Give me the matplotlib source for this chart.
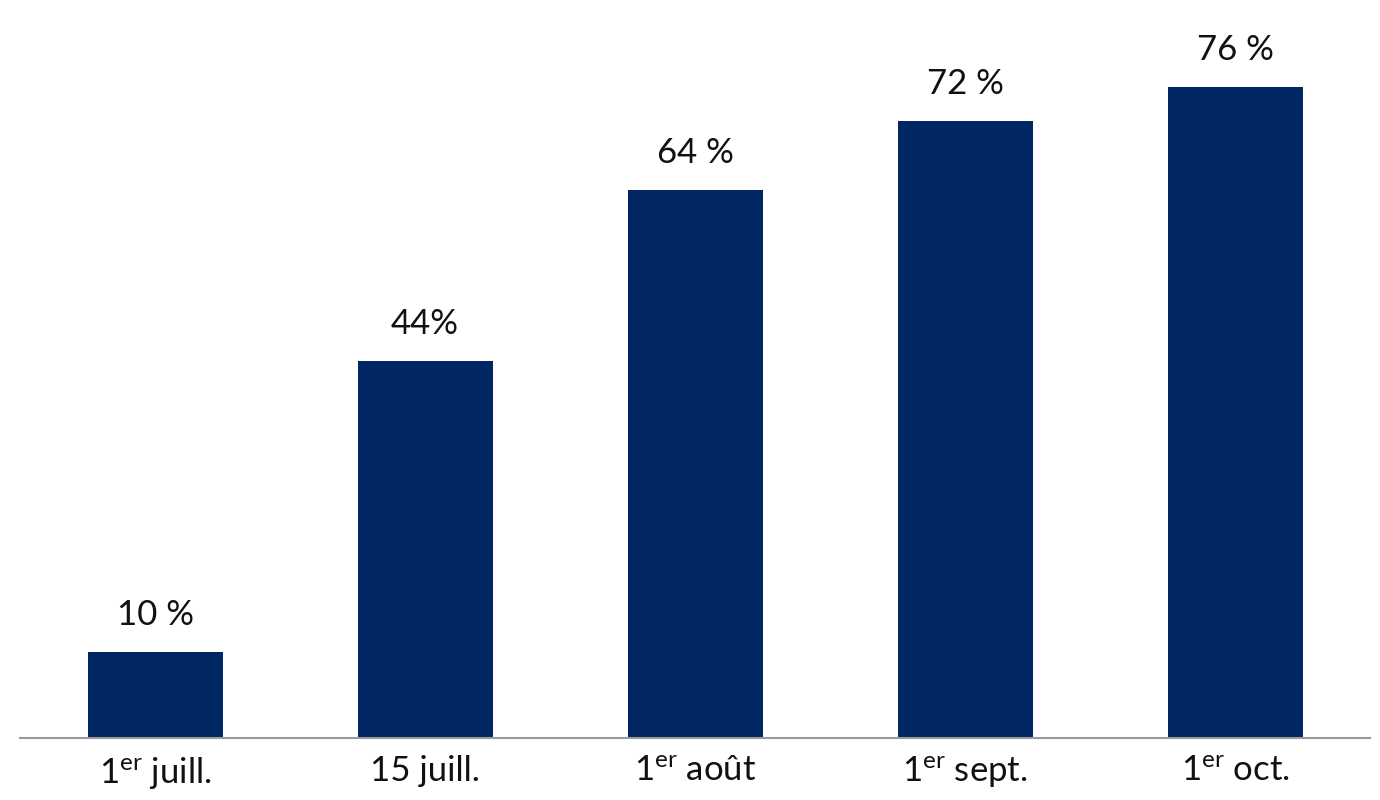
import matplotlib
matplotlib.use('Agg')
import matplotlib.pyplot as plt

# Data
categories = [r'1$^{\mathrm{er}}$ juill.', '15 juill.', r'1$^{\mathrm{er}}$ août',
              r'1$^{\mathrm{er}}$ sept.', r'1$^{\mathrm{er}}$ oct.']
values = [10, 44, 64, 72, 76]
value_labels = ['10 %', '44%', '64 %', '72 %', '76 %']

plt.rcParams['font.family'] = ['Lato', 'DejaVu Sans']
plt.rcParams['mathtext.fontset'] = 'custom'
plt.rcParams['mathtext.rm'] = 'Lato'
plt.rcParams['mathtext.it'] = 'Lato:italic'
plt.rcParams['mathtext.bf'] = 'Lato:bold'

fig = plt.figure(figsize=(13.8, 8), dpi=100)
ax = fig.add_axes([0.0145, 0.0775, 0.9783, 0.857])

x = range(len(values))
bars = ax.bar(x, values, width=0.5, color='#002664')

for b, lab in zip(bars, value_labels):
    ax.annotate(lab, (b.get_x() + b.get_width() / 2, b.get_height()),
                xytext=(0, 15), textcoords='offset points',
                ha='center', va='bottom', fontsize=25, color='#111111')

ax.set_xlim(-0.5, 4.5)
ax.set_ylim(0, 80)
ax.set_xticks(list(x))
ax.set_xticklabels(categories, fontsize=25, color='#111111')
ax.tick_params(axis='x', length=0, pad=12)
ax.set_yticks([])

for s in ['top', 'right', 'left']:
    ax.spines[s].set_visible(False)
ax.spines['bottom'].set_color('#9a9a9a')
ax.spines['bottom'].set_linewidth(1.5)

fig.savefig('out.png', dpi=100)
